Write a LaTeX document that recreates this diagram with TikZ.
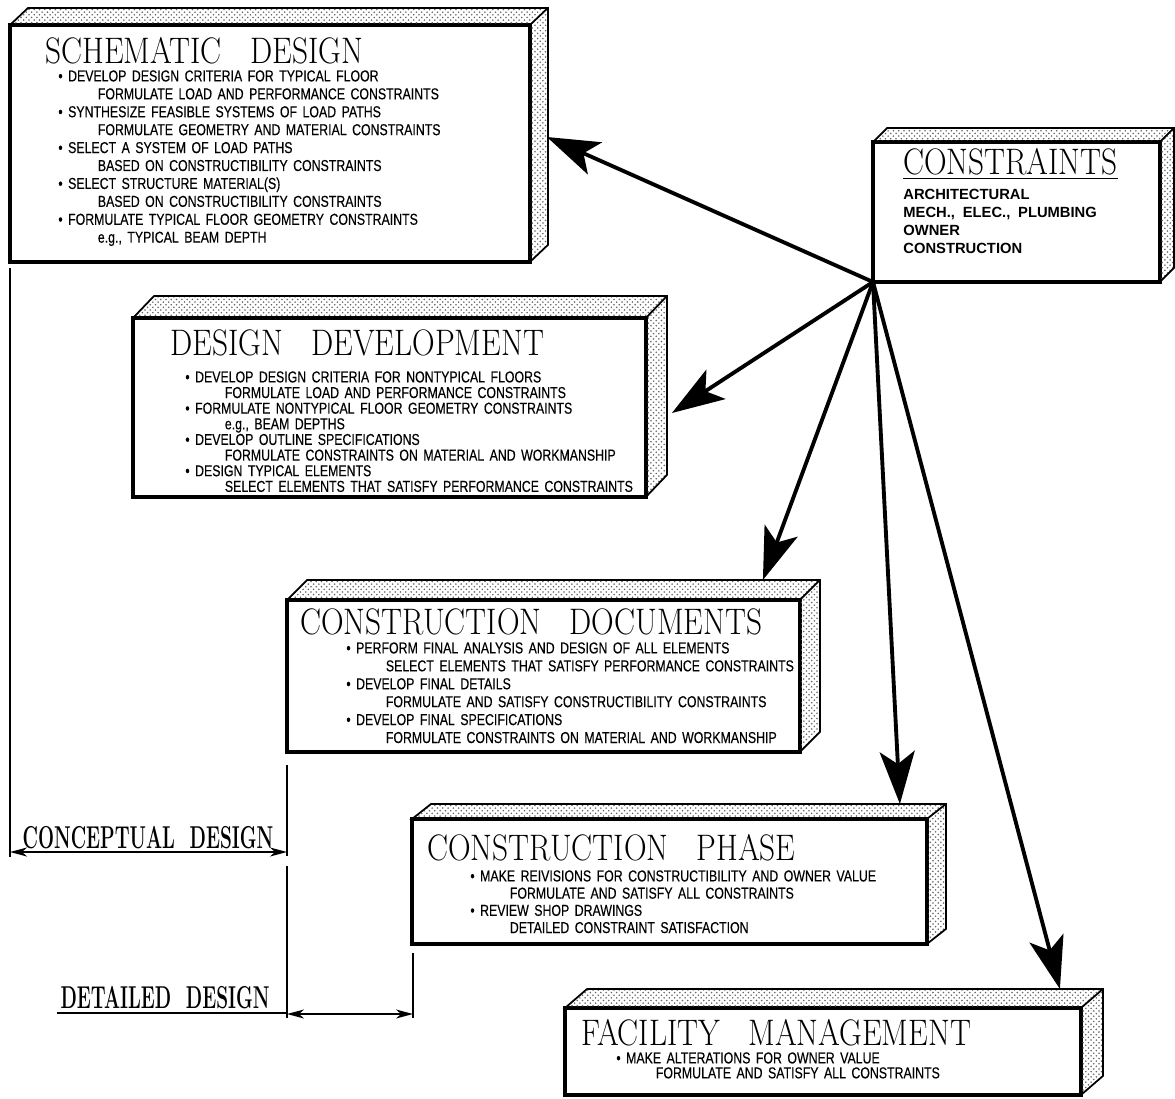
\documentclass[tikz,border=0pt]{standalone}
\usepackage{fontspec}
\usepackage{graphicx}
\usetikzlibrary{arrows.meta, positioning, calc, patterns}
\newfontfamily\cadfont{Liberation Sans}[FakeStretch=0.78, WordSpace=1.6, FakeBold=0.3]
\newfontfamily\tagfont{Liberation Sans}[WordSpace=1.9]
\newcommand{\ttl}[1]{\scalebox{0.85}[1]{#1}}
\newcommand{\dimtxt}[1]{\scalebox{0.6}[1]{#1}}
\newcommand{\itm}[2]{\textbullet\ #1\\\hspace*{2.5em}#2}

\begin{document}
\begin{tikzpicture}[x=0.02cm, y=-0.02cm,
    front/.style={draw, line width=2.6pt, fill=white, anchor=north west,
                  inner sep=0pt, outer sep=0pt},
    face/.style={draw, line width=1pt, pattern=crosshatch dots,
                 pattern color=black!60},
    ttl/.style={anchor=west, inner sep=0pt, font=\fontsize{21}{23}\selectfont},
    body/.style={anchor=north west, inner sep=0pt, align=left,
                 font=\cadfont\fontsize{9}{#1}\selectfont},
    body/.default=10.2,
    big/.style={-{Stealth[length=10.5mm, width=7mm, inset=2.5mm]},
                line width=2.2pt},
    dim/.style={line width=0.8pt},
    dimarr/.style={{Stealth[length=3.4mm, width=1.8mm, inset=1mm]}-{Stealth[length=3.4mm, width=1.8mm, inset=1mm]},
                   line width=0.8pt},
    dimlab/.style={inner sep=0pt, font=\bfseries\fontsize{18}{20}\selectfont}]
  \useasboundingbox (0,0) rectangle (1175,1098);

  % front faces of the slabs
  \node[front, minimum width=10.4cm, minimum height=4.74cm] (sd) at (10,25) {};
  \node[front, minimum width=5.74cm, minimum height=2.8cm] (con) at (873,142) {};
  \node[front, minimum width=10.26cm, minimum height=3.58cm] (dd) at (133,318) {};
  \node[front, minimum width=10.26cm, minimum height=3.04cm] (cd) at (287,600) {};
  \node[front, minimum width=10.3cm, minimum height=2.5cm] (cp) at (412,819) {};
  \node[front, minimum width=10.32cm, minimum height=1.74cm] (fm) at (565,1008) {};

  % top and side faces
  \foreach \b/\dx/\dy in {sd/18/-17, con/14/-14, dd/21/-22, cd/20/-20,
                          cp/19/-15, fm/22/-19}{%
    \draw[face] (\b.north west) -- ++(\dx,\dy) -- ($(\b.north east)+(\dx,\dy)$)
      -- ($(\b.south east)+(\dx,\dy)$) -- (\b.south east) -- (\b.north east) -- cycle;
    \draw[line width=1pt] (\b.north east) -- ++(\dx,\dy);}

  % titles
  \node[ttl] (sdt) at ($(sd.north west)+(35,26)$) {\ttl{SCHEMATIC\hspace{0.6em} DESIGN}};
  \node[ttl] (cont) at ($(con.north west)+(30,22)$) {\ttl{\underline{CONSTRAINTS}}};
  \node[ttl] (ddt) at ($(dd.north west)+(37,25)$) {\ttl{DESIGN\hspace{0.6em} DEVELOPMENT}};
  \node[ttl] (cdt) at ($(cd.north west)+(13,22)$) {\ttl{CONSTRUCTION\hspace{0.6em} DOCUMENTS}};
  \node[ttl] (cpt) at ($(cp.north west)+(15,29)$) {\ttl{CONSTRUCTION\hspace{0.6em} PHASE}};
  \node[ttl] (fmt) at ($(fm.north west)+(16,25)$) {\ttl{FACILITY\hspace{0.6em} MANAGEMENT}};

  % bullet lists
  \node[body] (sdb) at ($(sd.north west)+(48,45)$) {%
    \itm{DEVELOP DESIGN CRITERIA FOR TYPICAL FLOOR}{FORMULATE LOAD AND PERFORMANCE CONSTRAINTS}\\
    \itm{SYNTHESIZE FEASIBLE SYSTEMS OF LOAD PATHS}{FORMULATE GEOMETRY AND MATERIAL CONSTRAINTS}\\
    \itm{SELECT A SYSTEM OF LOAD PATHS}{BASED ON CONSTRUCTIBILITY CONSTRAINTS}\\
    \itm{SELECT STRUCTURE MATERIAL(S)}{BASED ON CONSTRUCTIBILITY CONSTRAINTS}\\
    \itm{FORMULATE TYPICAL FLOOR GEOMETRY CONSTRAINTS}{e.g., TYPICAL BEAM DEPTH}};
  \node[body, font=\tagfont\bfseries\fontsize{8.4}{10.2}\selectfont] (conb)
    at ($(con.north west)+(30,47)$) {%
    ARCHITECTURAL\\ MECH., ELEC., PLUMBING\\ OWNER\\ CONSTRUCTION};
  \node[body=8.9] (ddb) at ($(dd.north west)+(52,53)$) {%
    \itm{DEVELOP DESIGN CRITERIA FOR NONTYPICAL FLOORS}{FORMULATE LOAD AND PERFORMANCE CONSTRAINTS}\\
    \itm{FORMULATE NONTYPICAL FLOOR GEOMETRY CONSTRAINTS}{e.g., BEAM DEPTHS}\\
    \itm{DEVELOP OUTLINE SPECIFICATIONS}{FORMULATE CONSTRAINTS ON MATERIAL AND WORKMANSHIP}\\
    \itm{DESIGN TYPICAL ELEMENTS}{SELECT ELEMENTS THAT SATISFY PERFORMANCE CONSTRAINTS}};
  \node[body] (cdb) at ($(cd.north west)+(59,42)$) {%
    \itm{PERFORM FINAL ANALYSIS AND DESIGN OF ALL ELEMENTS}{SELECT ELEMENTS THAT SATISFY PERFORMANCE CONSTRAINTS}\\
    \itm{DEVELOP FINAL DETAILS}{FORMULATE AND SATISFY CONSTRUCTIBILITY CONSTRAINTS}\\
    \itm{DEVELOP FINAL SPECIFICATIONS}{FORMULATE CONSTRAINTS ON MATERIAL AND WORKMANSHIP}};
  \node[body=9.8] (cpb) at ($(cp.north west)+(58,51)$) {%
    \itm{MAKE REIVISIONS FOR CONSTRUCTIBILITY AND OWNER VALUE}{FORMULATE AND SATISFY ALL CONSTRAINTS}\\
    \itm{REVIEW SHOP DRAWINGS}{DETAILED CONSTRAINT SATISFACTION}};
  \node[body=8.5] (fmb) at ($(fm.north west)+(51,44)$) {%
    \itm{MAKE ALTERATIONS FOR OWNER VALUE}{FORMULATE AND SATISFY ALL CONSTRAINTS}};

  % arrows out of the constraints
  \coordinate (sdtip) at ($(sd.north east)+(17,112)$);
  \coordinate (ddtip) at ($(dd.north east)+(26,95)$);
  \coordinate (cdtip) at ($(cd.north east)+(-37,-20)$);
  \coordinate (cptip) at ($(cp.north east)+(-27,-15)$);
  \coordinate (fmtip) at ($(fm.north east)+(-21,-19)$);
  \foreach \t in {sdtip, ddtip, cdtip, cptip, fmtip}
    \draw[big] (con.south west) -- (\t);

  % design stage dimensions
  \coordinate (c1) at ($(sd.south west)+(0,6)$);
  \coordinate (c2) at (10,857);
  \coordinate (c3) at ($(cd.south west)+(0,13)$);
  \coordinate (c4) at (287,856);
  \coordinate (c5) at (287,866);
  \coordinate (c6) at (287,1018);
  \coordinate (c7) at ($(cp.south west)+(1,9)$);
  \coordinate (c8) at (413,1018);
  \draw[dim] (c1) -- (c2);
  \draw[dim] (c3) -- (c4);
  \draw[dim] (c5) -- (c6);
  \draw[dim] (c7) -- (c8);
  \draw[dimarr] (10,852) -- (287,852);
  \node[dimlab, anchor=base] (cdlab) at (148,848) {\dimtxt{CONCEPTUAL\hspace{0.4em} DESIGN}};
  \node[dimlab, anchor=base east] (ddlab) at (270,1008) {\dimtxt{DETAILED\hspace{0.4em} DESIGN}};
  \draw[dim] ($(ddlab.base west)+(-3,5)$) -- (287,1013);
  \draw[dimarr] (287,1014) -- (413,1014);
\end{tikzpicture}
\end{document}
